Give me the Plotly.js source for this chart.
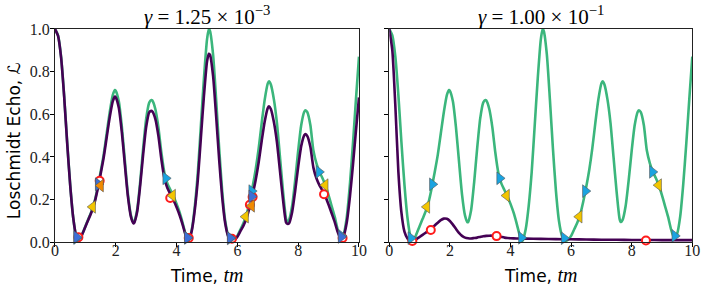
<!DOCTYPE html>
<html><head><meta charset="utf-8">
<script src="https://cdn.plot.ly/plotly-3.0.1.min.js"></script>
<style>body{margin:0;background:#fff}#chart{width:706px;height:289px}</style>
</head><body><div id="chart"></div>
<script>
// time grid (tm) shared by the ideal curve and the small-gamma curve
const timeGrid = [0.0,0.1,0.2,0.3,0.4,0.5,0.6,0.7,0.76,0.8,0.9,1.0,1.1,1.2,1.3,1.4,1.5,1.6,1.7,1.8,1.9,1.97,2.0,2.1,2.2,2.3,2.4,2.5,2.58,2.6,2.7,2.8,2.9,3.0,3.1,3.17,3.2,3.3,3.4,3.5,3.6,3.7,3.8,3.9,4.0,4.1,4.2,4.3,4.37,4.4,4.5,4.6,4.7,4.8,4.9,5.0,5.06,5.1,5.2,5.3,5.4,5.5,5.6,5.7,5.8,5.9,6.0,6.1,6.2,6.3,6.4,6.5,6.6,6.7,6.8,6.9,7.0,7.04,7.1,7.2,7.3,7.4,7.5,7.6,7.64,7.7,7.8,7.9,8.0,8.1,8.2,8.24,8.3,8.4,8.5,8.6,8.7,8.8,8.9,9.0,9.1,9.2,9.3,9.4,9.5,9.6,9.7,9.8,9.9,10.0];
// ideal (gamma = 0) echo, green
const echoIdeal = [1.000,0.970,0.870,0.690,0.470,0.270,0.115,0.025,0.003,0.008,0.040,0.075,0.110,0.145,0.190,0.255,0.330,0.410,0.510,0.610,0.690,0.714,0.710,0.660,0.540,0.380,0.225,0.125,0.094,0.095,0.150,0.280,0.440,0.580,0.655,0.667,0.665,0.625,0.540,0.420,0.325,0.275,0.245,0.215,0.180,0.140,0.090,0.035,0.004,0.008,0.060,0.170,0.330,0.550,0.770,0.950,1.000,0.990,0.880,0.670,0.440,0.240,0.100,0.030,0.005,0.012,0.030,0.060,0.090,0.130,0.190,0.260,0.340,0.440,0.560,0.670,0.745,0.755,0.740,0.670,0.560,0.400,0.240,0.110,0.095,0.105,0.170,0.290,0.430,0.550,0.612,0.619,0.610,0.550,0.430,0.370,0.330,0.300,0.265,0.220,0.170,0.120,0.060,0.020,0.040,0.120,0.270,0.460,0.670,0.870];
// gamma = 1.25e-3 echo, purple
const echoLowGamma = [1.000,0.968,0.867,0.685,0.466,0.267,0.114,0.025,0.004,0.008,0.039,0.073,0.107,0.141,0.185,0.247,0.319,0.396,0.491,0.586,0.661,0.683,0.679,0.630,0.514,0.361,0.213,0.118,0.089,0.090,0.141,0.263,0.412,0.542,0.610,0.616,0.614,0.579,0.500,0.388,0.299,0.253,0.224,0.197,0.164,0.127,0.082,0.032,0.005,0.008,0.054,0.153,0.296,0.492,0.687,0.846,0.884,0.879,0.780,0.592,0.388,0.211,0.088,0.026,0.005,0.010,0.026,0.052,0.078,0.112,0.163,0.223,0.291,0.375,0.476,0.568,0.630,0.638,0.625,0.564,0.470,0.335,0.200,0.093,0.087,0.089,0.141,0.240,0.354,0.452,0.502,0.507,0.498,0.448,0.350,0.300,0.267,0.242,0.213,0.176,0.136,0.096,0.048,0.016,0.032,0.095,0.212,0.361,0.524,0.679];
// gamma = 1e-1 echo, purple
const timeHigh = [0.0,0.1,0.2,0.3,0.4,0.5,0.6,0.7,0.8,0.9,1.0,1.1,1.2,1.3,1.4,1.5,1.6,1.7,1.8,1.9,2.0,2.1,2.2,2.3,2.4,2.5,2.6,2.7,2.8,2.9,3.0,3.1,3.2,3.3,3.4,3.5,3.6,3.7,3.8,3.9,4.0,4.2,4.5,5.0,5.5,6.0,6.5,7.0,7.5,8.0,8.5,9.0,9.5,10.0];
const echoHighGamma = [1.000,0.900,0.640,0.330,0.140,0.050,0.018,0.004,0.006,0.015,0.025,0.035,0.045,0.055,0.066,0.079,0.092,0.104,0.111,0.110,0.100,0.083,0.063,0.044,0.030,0.022,0.019,0.018,0.020,0.022,0.025,0.028,0.030,0.031,0.031,0.030,0.028,0.025,0.022,0.020,0.019,0.018,0.017,0.016,0.015,0.014,0.013,0.012,0.012,0.011,0.011,0.010,0.010,0.010];

// markers
const cyanT = [0.71,1.42,3.64,4.36,5.77,6.47,8.68,9.42];
const cyanL = [0.020,0.272,0.300,0.021,0.019,0.240,0.330,0.030];
const yellowT = [1.24,3.87,6.27,8.89];
const yellowL = [0.166,0.219,0.120,0.268];
const redLowT = [0.77,1.47,3.79,4.40,5.82,6.41,6.50,8.85,9.46];
const redLowL = [0.024,0.288,0.208,0.020,0.017,0.176,0.212,0.225,0.020];
const blueLowT = [0.71,1.43,4.35,5.76,6.47,9.41];
const blueLowL = [0.024,0.272,0.021,0.020,0.215,0.025];
const orangeLowT = [1.50,6.47];
const orangeLowL = [0.266,0.171];
const redHighT = [0.76,1.37,3.54,8.47];
const redHighL = [0.006,0.058,0.029,0.008];

const titles = ['<i>γ</i> = 1.25 × 10<sup>−3</sup>', '<i>γ</i> = 1.00 × 10<sup>−1</sup>'];
const xTicks = [0,2,4,6,8,10];
const yTicks = [0,0.2,0.4,0.6,0.8,1.0];
const yTickText = ['0.0','0.2','0.4','0.6','0.8','1.0'];

const GREEN = '#3bb67c', PURPLE = '#440154';
function line(x,y,color,xa,ya){return {x:x,y:y,mode:'lines',line:{color:color,width:2.6,shape:'spline',smoothing:0.6},xaxis:xa,yaxis:ya,hoverinfo:'skip',showlegend:false};}
function mk(x,y,sym,fill,edge,ew,size,xa,ya){return {x:x,y:y,mode:'markers',marker:{symbol:sym,color:fill,size:size,line:{color:edge,width:ew}},xaxis:xa,yaxis:ya,showlegend:false,cliponaxis:false};}

const data = [
  line(timeGrid, echoIdeal, GREEN, 'x','y'),
  line(timeGrid, echoLowGamma, PURPLE, 'x','y'),
  mk(redLowT, redLowL, 'circle', '#ffffff', '#ff1a1a', 2, 8, 'x','y'),
  mk(cyanT, cyanL, 'triangle-right', '#1aa3e0', '#555555', 0.6, 11, 'x','y'),
  mk(yellowT, yellowL, 'triangle-left', '#f2c500', '#555555', 0.6, 11, 'x','y'),
  mk(blueLowT, blueLowL, 'triangle-right', '#3d6fd8', '#555555', 0.6, 11, 'x','y'),
  mk(orangeLowT, orangeLowL, 'triangle-left', '#f28a00', '#555555', 0.6, 11, 'x','y'),
  line(timeGrid, echoIdeal, GREEN, 'x2','y2'),
  line(timeHigh, echoHighGamma, PURPLE, 'x2','y2'),
  mk(redHighT, redHighL, 'circle', '#ffffff', '#ff1a1a', 2, 8, 'x2','y2'),
  mk(cyanT, cyanL, 'triangle-right', '#1aa3e0', '#555555', 0.6, 11, 'x2','y2'),
  mk(yellowT, yellowL, 'triangle-left', '#f2c500', '#555555', 0.6, 11, 'x2','y2')
];

const tickFont = {family:'Liberation Serif, DejaVu Serif, serif', size:16, color:'#222'};
function xax(dom){return {domain:dom,range:[0,10],tickvals:xTicks,ticktext:xTicks.map(String),ticks:'outside',ticklen:4,tickwidth:1,tickcolor:'#000',ticklabelstandoff:-10,showline:true,mirror:true,linecolor:'#222',linewidth:1,showgrid:false,zeroline:false,tickfont:tickFont,fixedrange:true};}
function yax(anchor,labels){return {domain:[0.1616,0.8997],anchor:anchor,range:[0,1],tickvals:yTicks,ticktext:yTickText,showticklabels:labels,ticks:'outside',ticklen:4,tickwidth:1,tickcolor:'#000',ticklabelstandoff:-3,showline:true,mirror:true,linecolor:'#222',linewidth:1,showgrid:false,zeroline:false,tickfont:tickFont,fixedrange:true};}

const sans = {family:'DejaVu Sans, sans-serif', size:17, color:'#000'};
const serifTitle = {family:'Liberation Serif, DejaVu Serif, serif', size:21, color:'#000'};
const mathTm = '<i style="font-family:Liberation Serif;font-size:20px">tm</i>';
const layout = {
  width:706, height:289, margin:{l:0,r:0,t:0,b:0},
  paper_bgcolor:'#fff', plot_bgcolor:'#fff',
  xaxis: xax([0.0779,0.5085]), yaxis: yax('x',true),
  xaxis2: Object.assign(xax([0.5514,0.9806]),{anchor:'y2'}), yaxis2: yax('x2',false),
  annotations:[
    {text:titles[0],xref:'paper',yref:'paper',x:0.2932,y:0.945,xanchor:'center',yanchor:'middle',showarrow:false,font:serifTitle},
    {text:titles[1],xref:'paper',yref:'paper',x:0.766,y:0.945,xanchor:'center',yanchor:'middle',showarrow:false,font:serifTitle},
    {text:'Time, '+mathTm,xref:'paper',yref:'paper',x:0.2932,y:0.05,xanchor:'center',yanchor:'middle',showarrow:false,font:sans},
    {text:'Time, '+mathTm,xref:'paper',yref:'paper',x:0.766,y:0.05,xanchor:'center',yanchor:'middle',showarrow:false,font:sans},
    {text:'Loschmidt Echo, ℒ',xref:'paper',yref:'paper',x:0.02,y:0.512,xanchor:'center',yanchor:'middle',textangle:-90,showarrow:false,font:sans}
  ]
};
Plotly.newPlot('chart', data, layout, {staticPlot:true, displayModeBar:false});
</script></body></html>
